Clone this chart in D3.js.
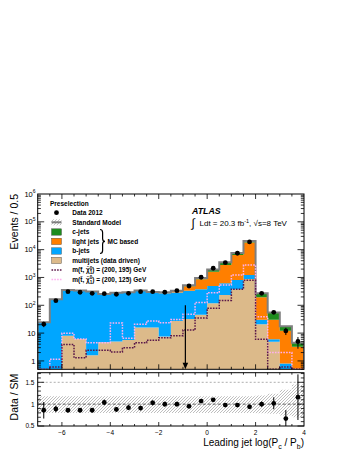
<!DOCTYPE html>
<html>
<head>
<meta charset="utf-8">
<script src="https://cdnjs.cloudflare.com/ajax/libs/d3/7.8.5/d3.min.js"></script>
<style>
body { margin: 0; background: #fff; }
svg { display: block; font-family: "Liberation Sans", Arial, Helvetica, sans-serif; }
</style>
</head>
<body>
<svg id="chart"></svg>
<script>
// binning: 22 bins of 0.5 starting at -7
var binLow = -7, binWidth = 0.5;

var data = [21, 146, 308, 294, 270, 261, 249, 270, 308, 308, 294, 335, 494, 1017, 2143, 3406, 7420, 18900, 270, 56, 12, 5];
var dataRelErr = [0.22, 0.083, 0.057, 0.058, 0.061, 0.062, 0.063, 0.061, 0.057, 0.057, 0.058, 0.055, 0.045, 0.031, 0.022, 0.017, 0.012, 0.007, 0.061, 0.134, 0.29, 0.45];

var multijets = [0.2, 0.3, 8.1, 6.1, 1.6, 4.7, 5.0, 5.6, 16, 16, 7.6, 27, 32, 46, 118, 235, 376, 880, 21, 4.9, 0.3, 0.05];
var bjets = [23.8, 161, 345, 331, 308, 244, 272, 281, 313, 269, 262, 261, 298, 330, 377, 385, 434, 350, 9, 1.1, 0.5, 0.15];
var lightjets = [0.3, 1.5, 3, 3, 3, 3, 3.5, 4, 6, 10, 18, 35, 150, 480, 1125, 2190, 5620, 16800, 164, 24, 11.4, 3];
var cjets = [0.1, 0.8, 1.5, 1.5, 1.5, 1.5, 2, 2, 3, 4, 6, 12, 45, 104, 330, 700, 1220, 2270, 76, 25, 5.6, 1.3];

var sig195 = [0.3, 0.6, 3.9, 1.3, 2.4, 2.4, 2.1, 3.0, 4.5, 5.5, 6.8, 8.0, 12.9, 35, 78, 150, 376, 790, 6, 0.45, 0.6, 0.3];
var sig125 = [0.2, 1.15, 9.8, 6.1, 4.5, 4.5, 23, 6.5, 20.7, 27, 23.6, 31, 48, 125, 284, 535, 1230, 2800, 39, 2.0, 2.0, 0.3];

var ratio = [0.86, 0.89, 0.86, 0.86, 0.86, 1.04, 0.88, 0.92, 0.91, 1.03, 1.0, 1.0, 0.95, 1.07, 1.1, 0.98, 0.98, 0.94, 1.0, 1.02, 0.67, 1.16];
var bandUp = [0.18, 0.18, 0.18, 0.18, 0.18, 0.18, 0.18, 0.18, 0.18, 0.18, 0.18, 0.18, 0.18, 0.18, 0.18, 0.18, 0.18, 0.18, 0.2, 0.24, 0.33, 0.45];
var bandDn = [0.2, 0.2, 0.2, 0.2, 0.2, 0.2, 0.2, 0.2, 0.2, 0.2, 0.2, 0.2, 0.2, 0.2, 0.2, 0.2, 0.2, 0.2, 0.21, 0.22, 0.26, 0.3];

var cutValue = -0.9;
var xTickLabels = [-6, -4, -2, 0, 2, 4];
var yTickLabels = [1, 10, 100, 1e3, 1e4, 1e5, 1e6];
var rTickLabels = [0.5, 1, 1.5];

var colors = { cjets: "#1e8c1e", light: "#ff7f00", bjets: "#00a6ff", multijets: "#dcba8a" };

var W = 349, H = 451;
var left = 37.7, right = 304;
var mainTop = 194, mainBot = 369.3, ratTop = 372.7, ratBot = 426;
var nBins = data.length;
var edges = d3.range(nBins + 1).map(function(i) { return binLow + i * binWidth; });
var centers = d3.range(nBins).map(function(i) { return binLow + (i + 0.5) * binWidth; });

var x = d3.scaleLinear().domain([-7, 4]).range([left, right]);
var y = d3.scaleLog().domain([0.5, 1e6]).range([mainBot, mainTop]).clamp(true);
var yr = d3.scaleLinear().domain([0.5, 1.72]).range([ratBot, ratTop]);

var svg = d3.select("#chart").attr("width", W).attr("height", H);
svg.append("rect").attr("width", W).attr("height", H).attr("fill", "#fff");

var defs = svg.append("defs");
defs.append("clipPath").attr("id", "clipMain").append("rect")
    .attr("x", left).attr("y", mainTop).attr("width", right - left).attr("height", mainBot - mainTop);
defs.append("clipPath").attr("id", "clipRat").append("rect")
    .attr("x", left).attr("y", ratTop).attr("width", right - left).attr("height", ratBot - ratTop);
defs.append("pattern").attr("id", "hatch").attr("patternUnits", "userSpaceOnUse")
    .attr("width", 3).attr("height", 3)
    .append("path").attr("d", "M-1,1 l2,-2 M0,3 l3,-3 M2,4 l2,-2")
    .attr("stroke", "#888").attr("stroke-width", 0.55);

// stacked backgrounds
var rows = data.map(function(d, i) {
    return { multijets: multijets[i], bjets: bjets[i], light: lightjets[i], cjets: cjets[i] };
});
var keys = ["multijets", "bjets", "light", "cjets"];
var stacked = d3.stack().keys(keys)(rows);

var gMain = svg.append("g").attr("clip-path", "url(#clipMain)");

var area = d3.area().curve(d3.curveStepAfter)
    .x(function(p) { return x(p.x); })
    .y0(function(p) { return y(Math.max(p.lo, 0.5)); })
    .y1(function(p) { return y(Math.max(p.hi, 0.5)); });

stacked.forEach(function(layer) {
    var pts = edges.map(function(e, i) {
        var s = layer[Math.min(i, nBins - 1)];
        return { x: e, lo: s[0], hi: s[1] };
    });
    gMain.append("path").attr("d", area(pts)).attr("fill", colors[layer.key]);
});

var stepLine = d3.line().curve(d3.curveStepAfter)
    .x(function(p) { return x(p[0]); })
    .y(function(p) { return y(Math.max(p[1], 0.3)); });

function histPoints(vals) {
    var pts = [[edges[0], 0.3]];
    edges.forEach(function(e, i) { pts.push([e, vals[Math.min(i, nBins - 1)]]); });
    pts.push([edges[nBins], 0.3]);
    return pts;
}

var total = stacked[stacked.length - 1].map(function(s) { return s[1]; });
gMain.append("path").attr("d", stepLine(histPoints(total)))
    .attr("fill", "none").attr("stroke", "#7f7f7f").attr("stroke-width", 2);

gMain.append("path").attr("d", stepLine(histPoints(sig125)))
    .attr("fill", "none").attr("stroke", "#ffb0f0").attr("stroke-width", 1.5).attr("stroke-dasharray", "1.6,1.2");
gMain.append("path").attr("d", stepLine(histPoints(sig195)))
    .attr("fill", "none").attr("stroke", "#5a1848").attr("stroke-width", 1.5).attr("stroke-dasharray", "1.6,1.2");

// cut arrow
var ax = x(cutValue);
gMain.append("line").attr("x1", ax).attr("x2", ax).attr("y1", y(100)).attr("y2", mainBot - 4)
    .attr("stroke", "#000").attr("stroke-width", 1.2);
gMain.append("path")
    .attr("d", "M" + (ax - 2.8) + "," + (mainBot - 6.5) + "L" + (ax + 2.8) + "," + (mainBot - 6.5) + "L" + ax + "," + mainBot + "Z")
    .attr("fill", "#000");

// data
gMain.selectAll(".err").data(data).enter().append("line")
    .attr("x1", function(d, i) { return x(centers[i]); })
    .attr("x2", function(d, i) { return x(centers[i]); })
    .attr("y1", function(d, i) { return y(d * (1 - dataRelErr[i])); })
    .attr("y2", function(d, i) { return y(d * (1 + dataRelErr[i])); })
    .attr("stroke", "#000").attr("stroke-width", 1);
gMain.selectAll(".pt").data(data).enter().append("circle")
    .attr("cx", function(d, i) { return x(centers[i]); })
    .attr("cy", function(d) { return y(d); })
    .attr("r", 2.4).attr("fill", "#000");

// ratio panel
var gRat = svg.append("g").attr("clip-path", "url(#clipRat)");
var band = d3.area().curve(d3.curveStepAfter)
    .x(function(p) { return x(p.x); })
    .y0(function(p) { return yr(1 - p.dn); })
    .y1(function(p) { return yr(1 + p.up); });
var bandPts = edges.map(function(e, i) {
    var k = Math.min(i, nBins - 1);
    return { x: e, up: bandUp[k], dn: bandDn[k] };
});
gRat.append("path").attr("d", band(bandPts)).attr("fill", "url(#hatch)");
gRat.append("line").attr("x1", left).attr("x2", right).attr("y1", yr(1.5)).attr("y2", yr(1.5))
    .attr("stroke", "#777").attr("stroke-width", 0.6).attr("stroke-dasharray", "2,2");
gRat.append("line").attr("x1", left).attr("x2", right).attr("y1", yr(1)).attr("y2", yr(1))
    .attr("stroke", "#222").attr("stroke-width", 0.7).attr("stroke-dasharray", "3,2");
gRat.selectAll(".rerr").data(ratio).enter().append("line")
    .attr("x1", function(d, i) { return x(centers[i]); })
    .attr("x2", function(d, i) { return x(centers[i]); })
    .attr("y1", function(d, i) { return yr(d * (1 - dataRelErr[i])); })
    .attr("y2", function(d, i) { return yr(d * (1 + dataRelErr[i])); })
    .attr("stroke", "#000").attr("stroke-width", 1);
gRat.selectAll(".rpt").data(ratio).enter().append("circle")
    .attr("cx", function(d, i) { return x(centers[i]); })
    .attr("cy", function(d) { return yr(d); })
    .attr("r", 2.4).attr("fill", "#000");

// frames
svg.append("rect").attr("x", left).attr("y", mainTop).attr("width", right - left).attr("height", mainBot - mainTop)
    .attr("fill", "none").attr("stroke", "#000").attr("stroke-width", 1);
svg.append("rect").attr("x", left).attr("y", ratTop).attr("width", right - left).attr("height", ratBot - ratTop)
    .attr("fill", "none").attr("stroke", "#000").attr("stroke-width", 1);

var ticks = svg.append("g").attr("stroke", "#000").attr("stroke-width", 0.8);
function tick(x1, y1, x2, y2) {
    ticks.append("line").attr("x1", x1).attr("y1", y1).attr("x2", x2).attr("y2", y2);
}

// x ticks on both panels
d3.range(-13, 8).forEach(function(k) {
    var v = k * 0.5, px = x(v);
    var major = (v % 2 === 0);
    tick(px, mainBot, px, mainBot - (major ? 5 : 2.5));
    tick(px, mainTop, px, mainTop + (major ? 5 : 2.5));
    tick(px, ratBot, px, ratBot - (major ? 4 : 2));
    tick(px, ratTop, px, ratTop + (major ? 4 : 2));
});

// log y ticks
d3.range(-1, 6).forEach(function(n) {
    d3.range(1, 10).forEach(function(k) {
        var v = k * Math.pow(10, n);
        if (v < 0.5 || v > 1e6) return;
        var len = (k === 1) ? 6.5 : 3.2;
        tick(left, y(v), left + len, y(v));
        tick(right, y(v), right - len, y(v));
    });
});

// ratio y ticks
d3.range(5, 18).forEach(function(k) {
    var v = k / 10;
    var len = (k % 5 === 0) ? 6.5 : 3.2;
    tick(left, yr(v), left + len, yr(v));
    tick(right, yr(v), right - len, yr(v));
});

// tick labels
var labels = svg.append("g").attr("fill", "#000");
xTickLabels.forEach(function(v) {
    labels.append("text").attr("x", x(v)).attr("y", 434.5).attr("text-anchor", "middle")
        .attr("font-size", 6.5).text(v < 0 ? "\u2212" + Math.abs(v) : v);
});
yTickLabels.forEach(function(v) {
    var n = Math.round(Math.log10(v));
    var t = labels.append("text").attr("x", 35.5).attr("y", y(v) + 2.6).attr("text-anchor", "end").attr("font-size", 7.5);
    if (n === 0) t.text("1");
    else if (n === 1) t.text("10");
    else {
        t.append("tspan").text("10");
        t.append("tspan").attr("font-size", 5).attr("dy", -3.2).text(n);
    }
});
rTickLabels.forEach(function(v) {
    labels.append("text").attr("x", 34.5).attr("y", yr(v) + 2.4).attr("text-anchor", "end")
        .attr("font-size", 6.5).text(v);
});

// axis titles
svg.append("text").attr("transform", "translate(17.5," + mainTop + ")rotate(-90)")
    .attr("text-anchor", "end").attr("font-size", 10.5).text("Events / 0.5");
svg.append("text").attr("transform", "translate(17.5," + (ratTop + 1) + ")rotate(-90)")
    .attr("text-anchor", "end").attr("font-size", 10.5).text("Data / SM");
var xt = svg.append("text").attr("x", right).attr("y", 446).attr("text-anchor", "end").attr("font-size", 10);
xt.append("tspan").text("Leading jet log(P");
xt.append("tspan").attr("font-size", 7).attr("dy", 2.5).text("c");
xt.append("tspan").attr("dy", -2.5).text(" / P");
xt.append("tspan").attr("font-size", 7).attr("dy", 2.5).text("b");
xt.append("tspan").attr("dy", -2.5).text(")");

// ATLAS label
svg.append("text").attr("x", 192).attr("y", 213.5).attr("font-size", 8.8)
    .attr("font-weight", "bold").attr("font-style", "italic").text("ATLAS");
svg.append("text").attr("x", 191.5).attr("y", 227).attr("font-size", 12).text("\u222B");
var lumi = svg.append("text").attr("x", 199.5).attr("y", 226).attr("font-size", 8);
lumi.append("tspan").text("Ldt = 20.3 fb");
lumi.append("tspan").attr("font-size", 5.5).attr("dy", -3).text("-1");
lumi.append("tspan").attr("dy", 3).text(", \u221As=8 TeV");

// legend
var leg = svg.append("g").attr("font-size", 6.5).attr("font-weight", "bold");
leg.append("text").attr("x", 50).attr("y", 205.6).text("Preselection");
var rowY = [212.7, 222.3, 232, 241.4, 251, 260.4, 270, 279.4];
var mx0 = 51.5, mx1 = 61.5, tx = 72.3;

leg.append("circle").attr("cx", (mx0 + mx1) / 2).attr("cy", rowY[0]).attr("r", 2.4).attr("fill", "#000");
leg.append("text").attr("x", tx).attr("y", rowY[0] + 2.3).text("Data 2012");

leg.append("rect").attr("x", mx0).attr("y", rowY[1] - 3).attr("width", mx1 - mx0).attr("height", 6).attr("fill", "url(#hatch)");
leg.append("line").attr("x1", mx0).attr("x2", mx1).attr("y1", rowY[1]).attr("y2", rowY[1])
    .attr("stroke", "#7f7f7f").attr("stroke-width", 2);
leg.append("text").attr("x", tx).attr("y", rowY[1] + 2.3).text("Standard Model");

var boxEntries = [["cjets", "c-jets"], ["light", "light jets"], ["bjets", "b-jets"], ["multijets", "multijets (data driven)"]];
boxEntries.forEach(function(e, i) {
    var cy = rowY[2 + i];
    leg.append("rect").attr("x", mx0).attr("y", cy - 3.2).attr("width", mx1 - mx0).attr("height", 6.4)
        .attr("fill", colors[e[0]]).attr("stroke", "#444").attr("stroke-width", 0.4);
    leg.append("text").attr("x", tx).attr("y", cy + 2.3).text(e[1]);
});

// brace for MC based
leg.append("path")
    .attr("d", "M100,229.5 Q102.6,229.5 102.6,232.5 L102.6,238.5 Q102.6,241.4 105,241.4 Q102.6,241.4 102.6,244.3 L102.6,250.5 Q102.6,253.5 100,253.5")
    .attr("fill", "none").attr("stroke", "#000").attr("stroke-width", 1.2);
leg.append("text").attr("x", 107.5).attr("y", 243.7).text("MC based");

var sigEntries = [[sig195, "#5a1848", "195"], [sig125, "#ffb0f0", "125"]];
sigEntries.forEach(function(e, i) {
    var cy = rowY[6 + i];
    leg.append("line").attr("x1", mx0).attr("x2", mx1).attr("y1", cy).attr("y2", cy)
        .attr("stroke", e[1]).attr("stroke-width", 1.5).attr("stroke-dasharray", "1.6,1.2");
    var t = leg.append("text").attr("x", tx).attr("y", cy + 2.3);
    t.append("tspan").text("m(t\u0303, \u03C7\u0303");
    t.append("tspan").attr("font-size", 4.5).attr("dy", -2.6).text("0");
    t.append("tspan").attr("font-size", 4.5).attr("dx", -2.5).attr("dy", 4.6).text("1");
    t.append("tspan").attr("dy", -2).text(") = (200, " + e[2] + ") GeV");
});
</script>
</body>
</html>
